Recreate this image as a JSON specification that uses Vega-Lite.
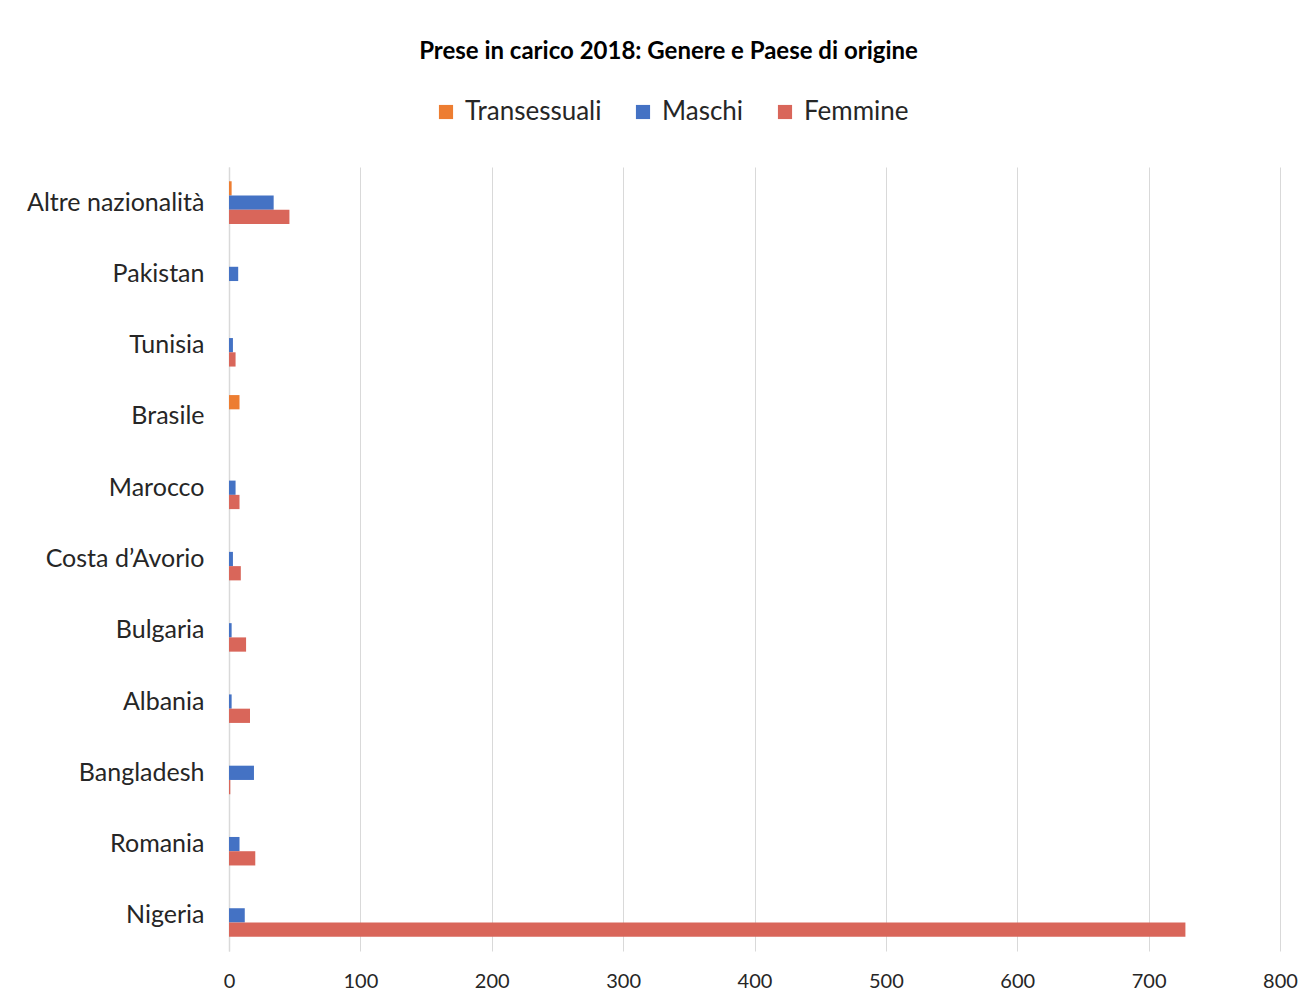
{
  "$schema": "https://vega.github.io/schema/vega-lite/v6.json",
  "width": 1051,
  "height": 784,
  "autosize": {"type": "none"},
  "padding": {"left": 229, "top": 167, "right": 36, "bottom": 55},
  "background": "white",
  "title": {
    "text": "Prese in carico 2018: Genere e Paese di origine",
    "font": "Lato",
    "fontSize": 24,
    "fontWeight": "bold",
    "color": "#000000",
    "anchor": "middle",
    "dx": -86,
    "offset": 35
  },
  "data": {
    "values": [
      {"paese": "Altre nazionalità", "genere": "Transessuali", "valore": 2},
      {"paese": "Altre nazionalità", "genere": "Maschi", "valore": 34},
      {"paese": "Altre nazionalità", "genere": "Femmine", "valore": 46},
      {"paese": "Pakistan", "genere": "Transessuali", "valore": 0},
      {"paese": "Pakistan", "genere": "Maschi", "valore": 7},
      {"paese": "Pakistan", "genere": "Femmine", "valore": 0},
      {"paese": "Tunisia", "genere": "Transessuali", "valore": 0},
      {"paese": "Tunisia", "genere": "Maschi", "valore": 3},
      {"paese": "Tunisia", "genere": "Femmine", "valore": 5},
      {"paese": "Brasile", "genere": "Transessuali", "valore": 8},
      {"paese": "Brasile", "genere": "Maschi", "valore": 0},
      {"paese": "Brasile", "genere": "Femmine", "valore": 0},
      {"paese": "Marocco", "genere": "Transessuali", "valore": 0},
      {"paese": "Marocco", "genere": "Maschi", "valore": 5},
      {"paese": "Marocco", "genere": "Femmine", "valore": 8},
      {"paese": "Costa d’Avorio", "genere": "Transessuali", "valore": 0},
      {"paese": "Costa d’Avorio", "genere": "Maschi", "valore": 3},
      {"paese": "Costa d’Avorio", "genere": "Femmine", "valore": 9},
      {"paese": "Bulgaria", "genere": "Transessuali", "valore": 0},
      {"paese": "Bulgaria", "genere": "Maschi", "valore": 2},
      {"paese": "Bulgaria", "genere": "Femmine", "valore": 13},
      {"paese": "Albania", "genere": "Transessuali", "valore": 0},
      {"paese": "Albania", "genere": "Maschi", "valore": 2},
      {"paese": "Albania", "genere": "Femmine", "valore": 16},
      {"paese": "Bangladesh", "genere": "Transessuali", "valore": 0},
      {"paese": "Bangladesh", "genere": "Maschi", "valore": 19},
      {"paese": "Bangladesh", "genere": "Femmine", "valore": 1},
      {"paese": "Romania", "genere": "Transessuali", "valore": 0},
      {"paese": "Romania", "genere": "Maschi", "valore": 8},
      {"paese": "Romania", "genere": "Femmine", "valore": 20},
      {"paese": "Nigeria", "genere": "Transessuali", "valore": 0},
      {"paese": "Nigeria", "genere": "Maschi", "valore": 12},
      {"paese": "Nigeria", "genere": "Femmine", "valore": 728}
    ]
  },
  "mark": {"type": "bar"},
  "encoding": {
    "y": {
      "field": "paese",
      "type": "nominal",
      "sort": ["Altre nazionalità", "Pakistan", "Tunisia", "Brasile", "Marocco", "Costa d’Avorio", "Bulgaria", "Albania", "Bangladesh", "Romania", "Nigeria"],
      "scale": {"paddingInner": 0.4, "paddingOuter": 0.2},
      "axis": {
        "title": null,
        "ticks": false,
        "domain": true,
        "domainColor": "#D9D9D9",
        "domainWidth": 1.5,
        "labelFont": "Lato",
        "labelFontSize": 25,
        "labelColor": "#262626",
        "labelPadding": 25,
        "grid": false
      }
    },
    "yOffset": {
      "field": "genere",
      "type": "nominal",
      "sort": ["Transessuali", "Maschi", "Femmine"],
      "scale": {"paddingInner": 0, "paddingOuter": 0}
    },
    "x": {
      "field": "valore",
      "type": "quantitative",
      "scale": {"domain": [0, 800], "nice": false},
      "axis": {
        "title": null,
        "values": [0, 100, 200, 300, 400, 500, 600, 700, 800],
        "ticks": false,
        "domain": false,
        "grid": true,
        "gridColor": "#D9D9D9",
        "gridWidth": 1,
        "labelFont": "Lato",
        "labelFontSize": 20,
        "labelFlush": false,
        "labelColor": "#262626",
        "labelPadding": 20
      }
    },
    "color": {
      "field": "genere",
      "type": "nominal",
      "sort": ["Transessuali", "Maschi", "Femmine"],
      "scale": {"domain": ["Transessuali", "Maschi", "Femmine"], "range": ["#ED7D31", "#4472C4", "#D9665A"]},
      "legend": {
        "title": null,
        "orient": "none",
        "direction": "horizontal",
        "legendX": 204,
        "legendY": -68,
        "symbolType": "square",
        "symbolSize": 200,
        "symbolStrokeWidth": 0,
        "labelFont": "Lato",
        "labelFontSize": 26,
        "labelColor": "#262626",
        "labelOffset": 6,
        "columnPadding": 28
      }
    }
  },
  "config": {
    "view": {"stroke": null}
  }
}
